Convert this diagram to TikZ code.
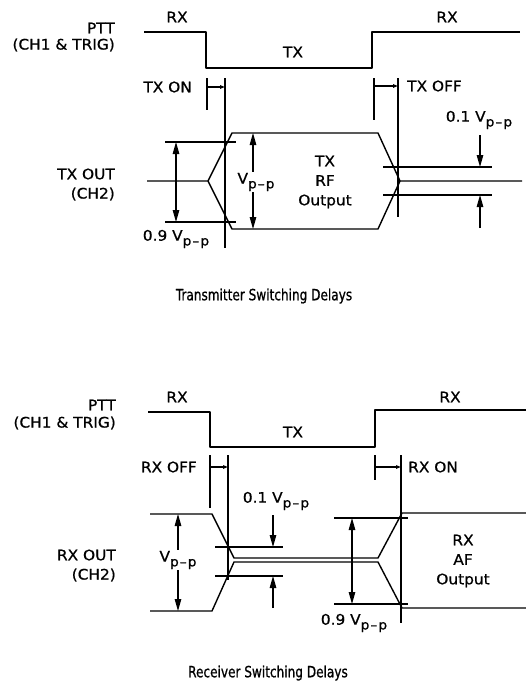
\documentclass[tikz,border=0pt]{standalone}
\usepackage{fontspec}
\setmainfont{DejaVu Sans}[FakeStretch=1.06, FakeBold=0.8]
\newfontfamily\capfont{DejaVu Sans}[FakeStretch=0.78, FakeBold=0.8]
\usetikzlibrary{positioning, arrows.meta}

\newcommand{\vpp}{V\raisebox{-0.6ex}{\fontsize{13}{13}\selectfont p\kern.08em--\kern.08em p}}

\begin{document}
\begin{tikzpicture}[
  x=1pt, y=-1pt,
  font=\fontsize{14.5}{19.5}\selectfont,
  % Estilos de trazos
  trace/.style={line width=1.4pt, line join=round},
  guide/.style={line width=1.2pt},
  % Estilos de flechas
  dimarrow/.style={draw, line width=1.2pt, -{Triangle[length=12pt, width=6.5pt]}},
  dimboth/.style={draw, line width=1.2pt, {Triangle[length=12pt, width=6.5pt]}-{Triangle[length=12pt, width=6.5pt]}},
  markarrow/.style={draw, line width=1.2pt, -{Triangle[length=5pt, width=3.5pt]}},
  lbl/.style={inner sep=1pt},
  caplbl/.style={inner sep=1pt, font=\capfont\fontsize{15.5}{17}\selectfont}
]
  \useasboundingbox (0,0) rectangle (526,685);

  % ==========================================
  % TRANSMITTER (top)
  % ==========================================
  \node[lbl, anchor=east] (pttA) at (116,28) {PTT};
  \node[lbl, anchor=east] (chA) at (116,45) {(CH1 \& TRIG)};
  \node[lbl] (rxA1) at (177,17) {RX};
  \node[lbl] (rxA2) at (447,17) {RX};
  \node[lbl] (txA) at (293,52) {TX};

  \draw[trace] (144,32) -- (206,32) -- (206,68) -- (372,68) -- (372,32) -- (520,32);

  % TX ON marker
  \coordinate (onL) at (207,87);
  \coordinate (onR) at (225,87);
  \draw[guide] (207,78) -- (207,110);
  \draw[guide] (225,78) -- (225,248);
  \draw[markarrow] (onL) -- (onR);
  \node[lbl, anchor=east] (txon) at (193,87) {TX ON};

  % TX OFF marker
  \coordinate (offL) at (374,86);
  \coordinate (offR) at (398,86);
  \draw[guide] (374,78) -- (374,120);
  \draw[guide] (398,78) -- (398,217);
  \draw[markarrow] (offL) -- (offR);
  \node[lbl, anchor=west] (txoff) at (406,86) {TX OFF};

  % TX OUT envelope
  \node[lbl, anchor=east] (txout) at (116,174) {TX OUT};
  \node[lbl, anchor=east] (chB) at (116,194) {(CH2)};
  \draw[trace] (147,181) -- (208,181) -- (232,133) -- (378,133) -- (400,181) -- (522,181);
  \draw[trace] (208,181) -- (232,229) -- (378,229) -- (400,181);
  \node[lbl, align=center] (rfout) at (325,182) {TX\\RF\\Output};

  % 0.9 levels
  \coordinate (ninT) at (176,142);
  \coordinate (ninB) at (176,222);
  \draw[guide] (165,142) -- (236,142);
  \draw[guide] (165,222) -- (236,222);
  \draw[dimboth] (ninT) -- (ninB);
  \node[lbl] (ninA) at (176,239) {0.9 \vpp};

  % Vpp arrows
  \node[lbl] (vppA) at (256,182) {\vpp};
  \coordinate (vpT) at (253,133);
  \coordinate (vpB) at (253,229);
  \draw[dimarrow] (vppA.north -| vpT) -- (vpT);
  \draw[dimarrow] (vppA.south -| vpB) -- (vpB);

  % 0.1 levels
  \coordinate (oneT) at (480,167);
  \coordinate (oneB) at (480,195);
  \draw[guide] (383,167) -- (492,167);
  \draw[guide] (383,195) -- (492,195);
  \node[lbl] (oneA) at (479,120) {0.1 \vpp};
  \draw[dimarrow] (480,135) -- (oneT);
  \draw[dimarrow] (480,228) -- (oneB);

  \node[caplbl] (capA) at (264,296) {Transmitter Switching Delays};

  % ==========================================
  % RECEIVER (bottom)
  % ==========================================
  \node[lbl, anchor=east] (pttB) at (117,405) {PTT};
  \node[lbl, anchor=east] (chC) at (117,423) {(CH1 \& TRIG)};
  \node[lbl] (rxB1) at (177,397) {RX};
  \node[lbl] (rxB2) at (450,397) {RX};
  \node[lbl] (txB) at (293,432) {TX};

  \draw[trace] (148,412) -- (210,412) -- (210,447) -- (375,447) -- (375,410) -- (526,410);

  % RX OFF marker
  \coordinate (roffL) at (210,467);
  \coordinate (roffR) at (228,467);
  \draw[guide] (210,455) -- (210,508);
  \draw[guide] (228,455) -- (228,580);
  \draw[markarrow] (roffL) -- (roffR);
  \node[lbl, anchor=east] (rxoff) at (198,467) {RX OFF};

  % RX ON marker
  \coordinate (ronL) at (375,467);
  \coordinate (ronR) at (401,467);
  \draw[guide] (375,455) -- (375,480);
  \draw[guide] (401,455) -- (401,623);
  \draw[markarrow] (ronL) -- (ronR);
  \node[lbl, anchor=west] (rxon) at (407,467) {RX ON};

  % RX OUT envelope
  \node[lbl, anchor=east] (rxout) at (117,555) {RX OUT};
  \node[lbl, anchor=east] (chD) at (117,575) {(CH2)};
  \draw[trace] (150,514) -- (212,514) -- (234,558) -- (378,558) -- (402,513) -- (526,513);
  \draw[trace] (150,611) -- (212,611) -- (234,562) -- (378,562) -- (402,608) -- (526,608);
  \node[lbl, align=center] (afout) at (463,561) {RX\\AF\\Output};

  % Vpp arrows
  \node[lbl] (vppB) at (178,560) {\vpp};
  \coordinate (vqT) at (178,514);
  \coordinate (vqB) at (178,611);
  \draw[dimarrow] (vppB.north -| vqT) -- (vqT);
  \draw[dimarrow] (vppB.south -| vqB) -- (vqB);

  % 0.1 levels
  \coordinate (twoT) at (273,547);
  \coordinate (twoB) at (273,576);
  \draw[guide] (215,547) -- (283,547);
  \draw[guide] (215,576) -- (283,576);
  \node[lbl] (oneB) at (276,501) {0.1 \vpp};
  \draw[dimarrow] (273,515) -- (twoT);
  \draw[dimarrow] (273,608) -- (twoB);

  % 0.9 levels
  \coordinate (nnT) at (352,518);
  \coordinate (nnB) at (352,604);
  \draw[guide] (334,518) -- (408,518);
  \draw[guide] (334,604) -- (408,604);
  \draw[dimboth] (nnT) -- (nnB);
  \node[lbl] (ninB) at (354,623) {0.9 \vpp};

  \node[caplbl] (capB) at (268,673) {Receiver Switching Delays};

\end{tikzpicture}
\end{document}
